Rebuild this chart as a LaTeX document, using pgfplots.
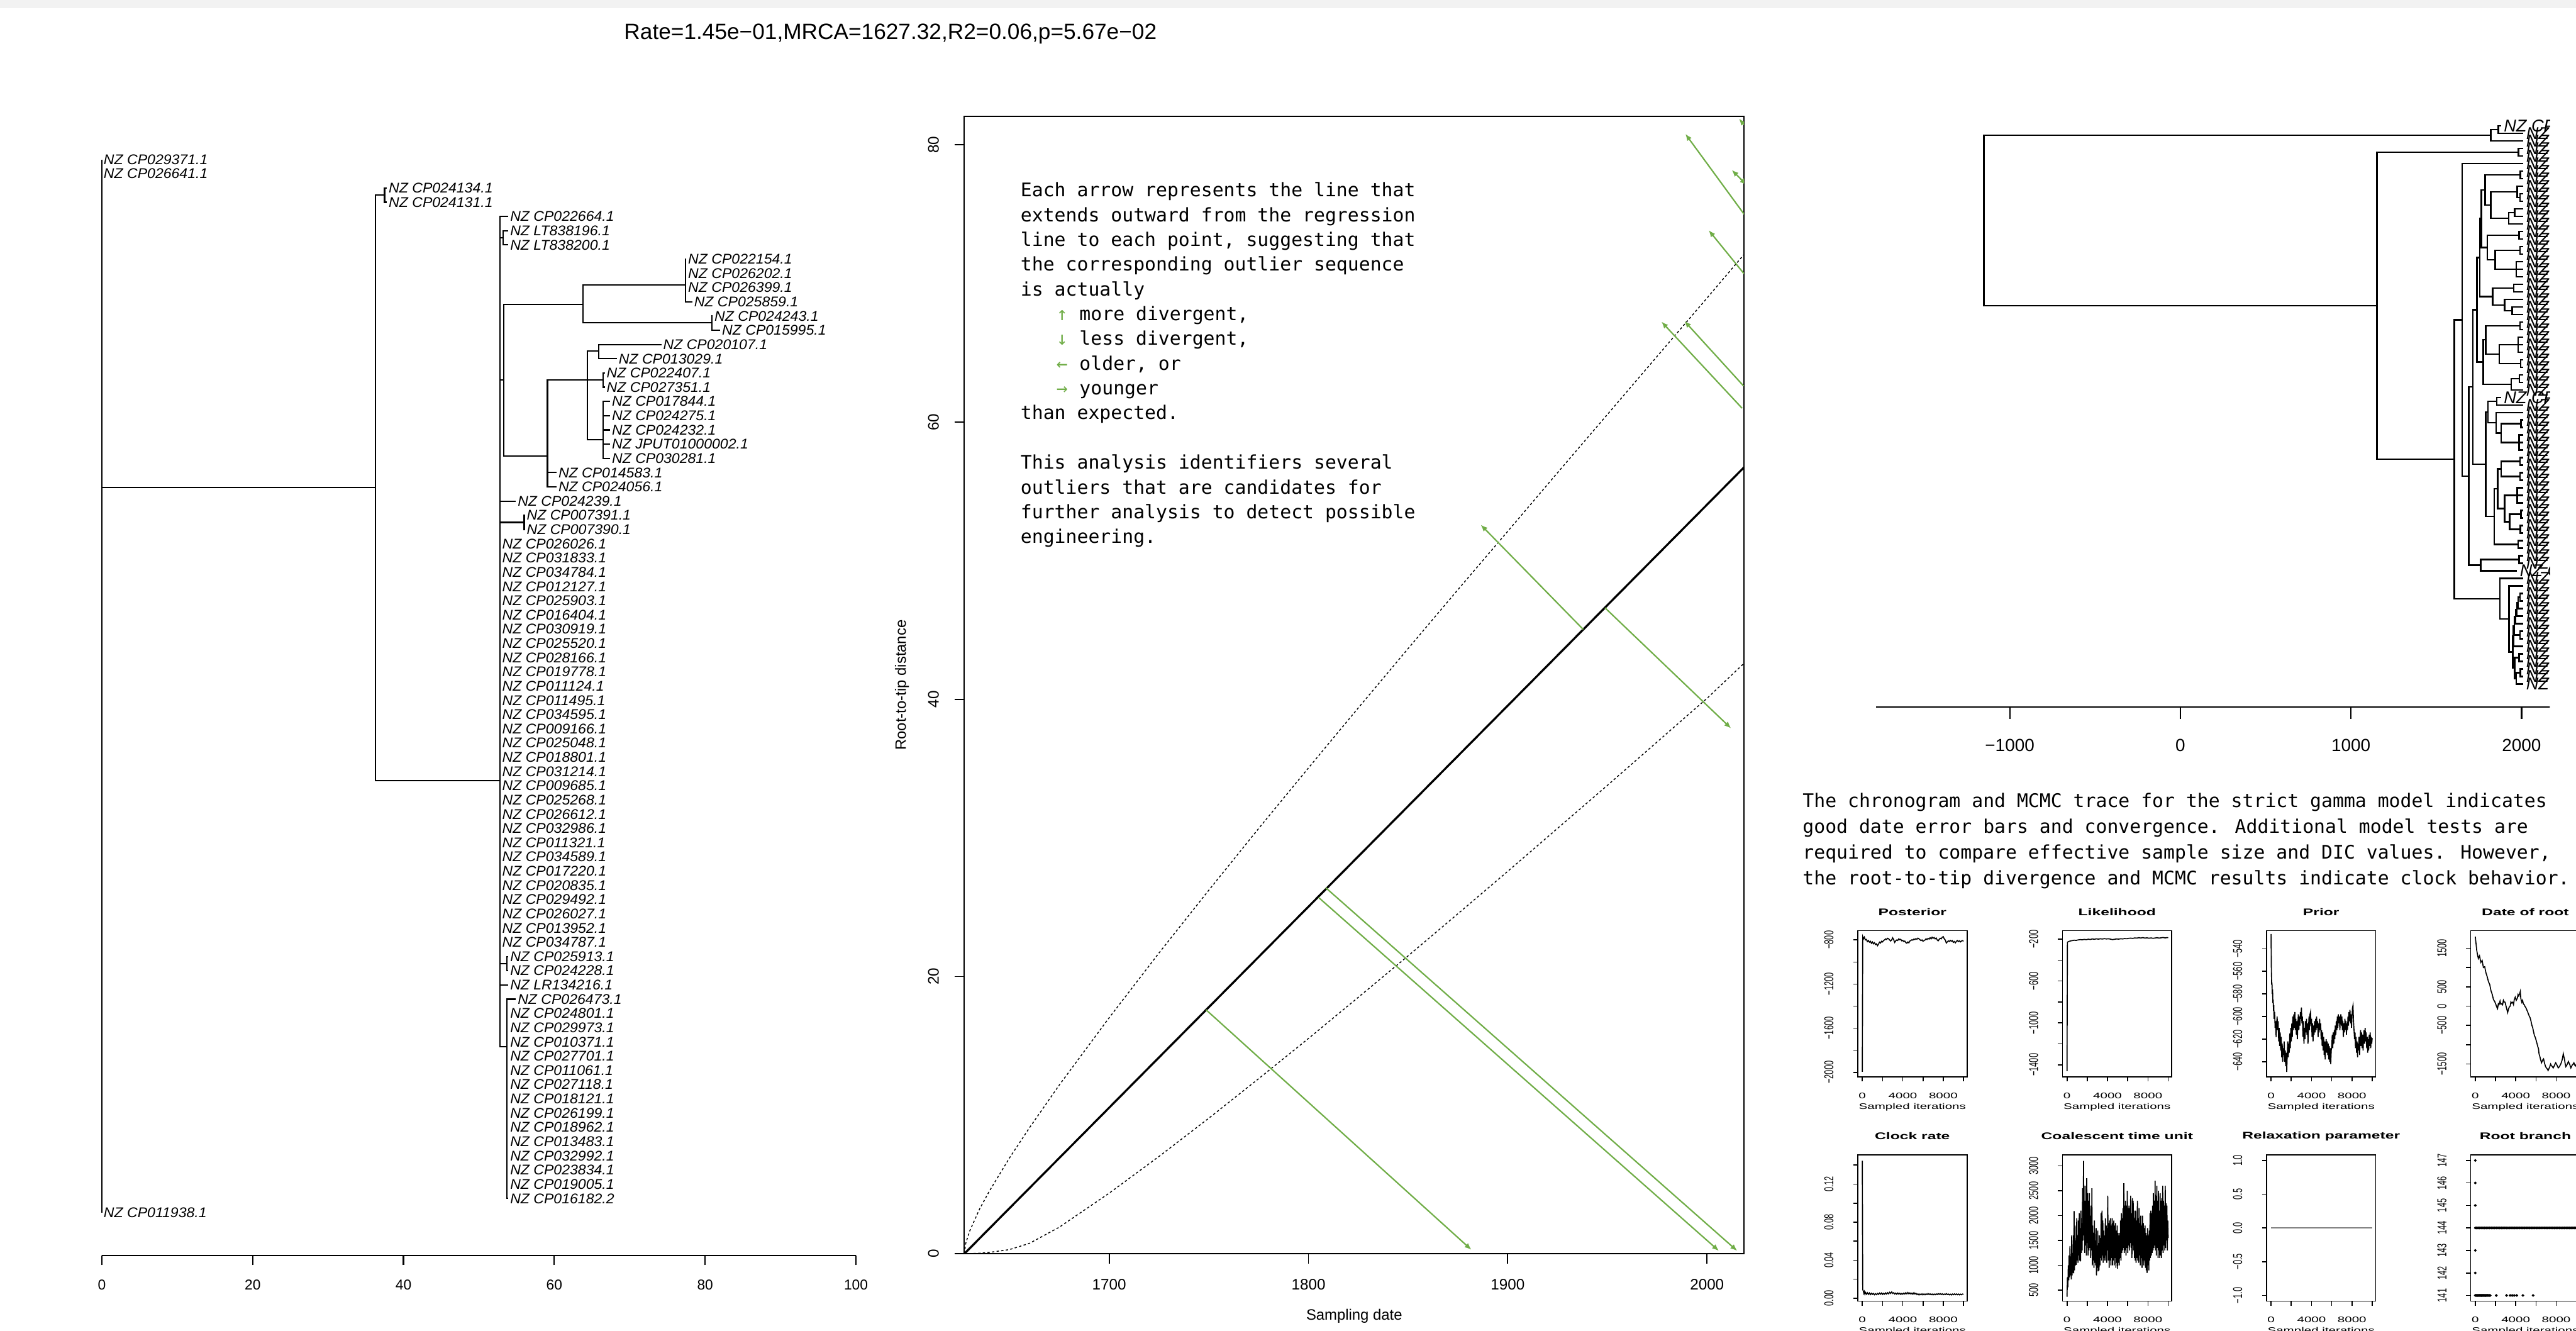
\documentclass[border=0pt]{standalone}
\usepackage{pgfplots}
\pgfplotsset{compat=1.18}
\usepackage{fontspec}
\setmainfont{Liberation Sans}
\newfontfamily\monofont{DejaVu Sans Mono}
\usetikzlibrary{arrows.meta}
\definecolor{grn}{RGB}{112,173,71}
\definecolor{topbar}{RGB}{242,242,242}
\pgfplotsset{mcmc/.style={anchor=south west, scale only axis, width=1.6625cm, height=2.225cm,
  scaled ticks=false, every axis title shift=0pt,
  xmin=-450, xmax=10350, xtick={0,2000,4000,6000,8000,10000}, xticklabels={0,,4000,,8000,},
  tick pos=left, tick align=outside, major tick length=0.07cm,
  axis line style={line width=0.45pt}, every tick/.style={black,line width=0.45pt},
  xticklabel style={font=\fontsize{3.5}{4}\selectfont, xscale=1.6},
  yticklabel style={font=\fontsize{3.5}{4}\selectfont, rotate=90, yscale=1.6, anchor=south},
  xticklabel shift=0.05cm, yticklabel shift=0.1cm,
  xlabel={Sampled iterations},
  xlabel style={at={(axis description cs:0.5,-0.2067)}, anchor=center, font=\fontsize{3.5}{4}\selectfont, xscale=1.6},
  title style={at={(axis description cs:0.5,1.128)}, anchor=center, font=\bfseries\fontsize{4.2}{5}\selectfont, xscale=1.6}}}
\begin{document}
\begin{tikzpicture}
\useasboundingbox (0,0) rectangle (39.2cm,20.25cm);
\clip (0,0) rectangle (39.2cm,20.25cm);
\fill[topbar] (0,20.125cm) rectangle (39.2cm,20.25cm);
\node[anchor=base, font=\fontsize{9.6}{11}\selectfont] at (13.55cm,19.65cm) {Rate=1.45e−01,MRCA=1627.32,R2=0.06,p=5.67e−02};

% ---------------- left phylogram ----------------
\begin{axis}[at={(1.55cm,1.15cm)}, anchor=south west, scale only axis, width=11.475cm, height=16.89cm,
  scaled ticks=false,
  xmin=0, xmax=100, ymin=0, ymax=78, y dir=reverse, hide y axis, axis x line*=bottom,
  xtick={0,20,40,60,80,100}, xticklabels={0,20,40,60,80,100},
  tick align=outside, major tick length=0.15cm,
  x axis line style={line width=0.6pt}, every tick/.style={black,line width=0.6pt},
  xticklabel style={font=\fontsize{6.2}{7}\selectfont}, xticklabel shift=0.1cm,
  clip=false, unbounded coords=jump]
\addplot[black, line width=0.6pt] coordinates {
(0,1) (0,75) (nan,nan)
(0,24.05) (36.3,24.05) (nan,nan)
(37.5,3.48) (36.3,3.48) (36.3,44.65) (52.8,44.65) (nan,nan)
(37.8,3) (37.5,3) (37.5,4) (37.8,4) (nan,nan)
(53.9,5) (52.8,5) (52.8,63.35) (53.7,63.35) (nan,nan)
(52.8,6.5) (53.2,6.5) (nan,nan)
(52.8,16.5) (53.3,16.5) (nan,nan)
(52.8,25) (54.9,25) (nan,nan)
(52.8,26.5) (56.0,26.5) (nan,nan)
(52.8,57.5) (53.7,57.5) (nan,nan)
(52.8,59) (53.9,59) (nan,nan)
(53.9,6) (53.2,6) (53.2,7) (53.9,7) (nan,nan)
(63.8,11.17) (53.3,11.17) (53.3,21.84) (59.1,21.84) (nan,nan)
(77.4,9.83) (63.8,9.83) (63.8,12.45) (80.9,12.45) (nan,nan)
(77.5,8) (77.4,8) (77.4,11) (78.3,11) (nan,nan)
(81.0,12) (80.9,12) (80.9,13) (82.0,13) (nan,nan)
(64.4,16.5) (59.1,16.5) (59.1,24) (60.3,24) (nan,nan)
(59.1,23) (60.3,23) (nan,nan)
(65.9,14.44) (64.4,14.44) (64.4,20.7) (66.5,20.7) (nan,nan)
(64.4,16.5) (66.5,16.5) (nan,nan)
(74.2,14) (65.9,14) (65.9,15) (68.3,15) (nan,nan)
(66.7,16) (66.5,16) (66.5,17) (66.7,17) (nan,nan)
(67.4,18) (66.5,18) (66.5,22) (67.4,22) (nan,nan)
(66.5,19) (67.4,19) (nan,nan)
(66.5,20) (67.4,20) (nan,nan)
(66.5,21) (67.4,21) (nan,nan)
(56.1,26) (56.0,26) (56.0,27) (56.1,27) (nan,nan)
(53.9,57) (53.7,57) (53.7,58) (53.9,58) (nan,nan)
(54.9,60) (53.7,60) (53.7,74) (53.9,74)
};
\addplot[only marks, mark=none, nodes near coords, point meta=explicit symbolic,
  nodes near coords style={anchor=west, inner sep=0.6pt, font=\fontsize{6.1}{7}\selectfont\itshape, xscale=1.03}]
  table[col sep=comma, row sep=\\, x=x, y=y, meta=lab] {
x,y,lab\\
0,1,NZ CP029371.1\\
0,2,NZ CP026641.1\\
37.8,3,NZ CP024134.1\\
37.8,4,NZ CP024131.1\\
53.9,5,NZ CP022664.1\\
53.9,6,NZ LT838196.1\\
53.9,7,NZ LT838200.1\\
77.5,8,NZ CP022154.1\\
77.5,9,NZ CP026202.1\\
77.5,10,NZ CP026399.1\\
78.3,11,NZ CP025859.1\\
81.0,12,NZ CP024243.1\\
82.0,13,NZ CP015995.1\\
74.2,14,NZ CP020107.1\\
68.3,15,NZ CP013029.1\\
66.7,16,NZ CP022407.1\\
66.7,17,NZ CP027351.1\\
67.4,18,NZ CP017844.1\\
67.4,19,NZ CP024275.1\\
67.4,20,NZ CP024232.1\\
67.4,21,NZ JPUT01000002.1\\
67.4,22,NZ CP030281.1\\
60.3,23,NZ CP014583.1\\
60.3,24,NZ CP024056.1\\
54.9,25,NZ CP024239.1\\
56.1,26,NZ CP007391.1\\
56.1,27,NZ CP007390.1\\
52.85,28,NZ CP026026.1\\
52.85,29,NZ CP031833.1\\
52.85,30,NZ CP034784.1\\
52.85,31,NZ CP012127.1\\
52.85,32,NZ CP025903.1\\
52.85,33,NZ CP016404.1\\
52.85,34,NZ CP030919.1\\
52.85,35,NZ CP025520.1\\
52.85,36,NZ CP028166.1\\
52.85,37,NZ CP019778.1\\
52.85,38,NZ CP011124.1\\
52.85,39,NZ CP011495.1\\
52.85,40,NZ CP034595.1\\
52.85,41,NZ CP009166.1\\
52.85,42,NZ CP025048.1\\
52.85,43,NZ CP018801.1\\
52.85,44,NZ CP031214.1\\
52.85,45,NZ CP009685.1\\
52.85,46,NZ CP025268.1\\
52.85,47,NZ CP026612.1\\
52.85,48,NZ CP032986.1\\
52.85,49,NZ CP011321.1\\
52.85,50,NZ CP034589.1\\
52.85,51,NZ CP017220.1\\
52.85,52,NZ CP020835.1\\
52.85,53,NZ CP029492.1\\
52.85,54,NZ CP026027.1\\
52.85,55,NZ CP013952.1\\
52.85,56,NZ CP034787.1\\
53.9,57,NZ CP025913.1\\
53.9,58,NZ CP024228.1\\
53.9,59,NZ LR134216.1\\
54.9,60,NZ CP026473.1\\
53.9,61,NZ CP024801.1\\
53.9,62,NZ CP029973.1\\
53.9,63,NZ CP010371.1\\
53.9,64,NZ CP027701.1\\
53.9,65,NZ CP011061.1\\
53.9,66,NZ CP027118.1\\
53.9,67,NZ CP018121.1\\
53.9,68,NZ CP026199.1\\
53.9,69,NZ CP018962.1\\
53.9,70,NZ CP013483.1\\
53.9,71,NZ CP032992.1\\
53.9,72,NZ CP023834.1\\
53.9,73,NZ CP019005.1\\
53.9,74,NZ CP016182.2\\
0,75,NZ CP011938.1\\
};
\end{axis}

% ---------------- root-to-tip regression ----------------
\begin{axis}[at={(14.675cm,1.175cm)}, anchor=south west, scale only axis, width=11.865cm, height=17.305cm,
  scaled ticks=false,
  xmin=1627.32, xmax=2018.6, ymin=0, ymax=82.06,
  xtick={1700,1800,1900,2000}, xticklabels={1700,1800,1900,2000},
  ytick={0,20,40,60,80}, yticklabels={0,20,40,60,80},
  tick pos=left, tick align=outside, major tick length=0.15cm,
  axis line style={line width=0.5pt}, every tick/.style={black,line width=0.5pt},
  tick label style={font=\fontsize{6.6}{8}\selectfont},
  yticklabel style={rotate=90, anchor=south},
  xticklabel shift=0.115cm, yticklabel shift=0.115cm,
  xlabel={Sampling date}, ylabel={Root-to-tip distance},
  label style={font=\fontsize{6.5}{8}\selectfont},
  xlabel style={at={(axis description cs:0.5,-0.0549)}, anchor=center},
  ylabel style={at={(axis description cs:-0.0801,0.5)}, anchor=center, rotate=0}]
\addplot[black, line width=0.9pt] coordinates {(1627.32,0) (2018.6,56.74)};
\addplot[black, line width=0.4pt, dash pattern=on 1pt off 1pt] coordinates {
(1627.32,0) (1628,0.75) (1630,1.64) (1635,3.24) (1640,4.55) (1650,6.92) (1660,9.09) (1675,12.18) (1700,17.03) (1725,21.70) (1750,26.23) (1775,30.68) (1800,35.05) (1825,39.38) (1850,43.66) (1875,47.91) (1900,52.12) (1925,56.35) (1950,60.55) (1975,64.75) (2000,68.95) (2018.6,72.1)};
\addplot[black, line width=0.4pt, dash pattern=on 1pt off 1pt] coordinates {
(1627.32,0) (1630,0.01) (1635,0.04) (1640,0.1) (1650,0.3) (1660,0.75) (1675,1.92) (1700,4.37) (1725,7.02) (1750,9.78) (1775,12.63) (1800,15.53) (1825,18.50) (1850,21.49) (1875,24.53) (1900,27.59) (1925,30.69) (1950,33.79) (1975,36.93) (2000,40.07) (2018.6,42.6)};
\addplot[grn, line width=0.6pt, -{Latex[length=3pt,width=2.4pt]}] coordinates {(1748.6,17.6) (1881.8,0.28)};
\addplot[grn, line width=0.6pt, -{Latex[length=3pt,width=2.4pt]}] coordinates {(1805.1,25.7) (2006.0,0.2)};
\addplot[grn, line width=0.6pt, -{Latex[length=3pt,width=2.4pt]}] coordinates {(1808.7,26.4) (2015.2,0.2)};
\addplot[grn, line width=0.6pt, -{Latex[length=3pt,width=2.4pt]}] coordinates {(1937.9,45.04) (1886.4,52.6)};
\addplot[grn, line width=0.6pt, -{Latex[length=3pt,width=2.4pt]}] coordinates {(1948.8,46.6) (2012.1,37.9)};
\addplot[grn, line width=0.6pt, -{Latex[length=3pt,width=2.4pt]}] coordinates {(2017.6,61.0) (1977.1,67.25)};
\addplot[grn, line width=0.6pt, -{Latex[length=3pt,width=2.4pt]}] coordinates {(2018.4,62.6) (1988.6,67.3)};
\addplot[grn, line width=0.6pt, -{Latex[length=3pt,width=2.4pt]}] coordinates {(2018.6,70.7) (2000.8,73.85)};
\addplot[grn, line width=0.6pt, -{Latex[length=3pt,width=2.4pt]}] coordinates {(2018.6,75.0) (1989.1,80.8)};
\addplot[grn, line width=0.6pt, {Latex[length=3pt,width=2.4pt]}-{Latex[length=3pt,width=2.4pt]}] coordinates {(2012.4,78.2) (2019.9,77.1)};
\addplot[grn, line width=0.6pt, -{Latex[length=3pt,width=2.4pt]}] coordinates {(2018.6,81.45) (2016.0,81.9)};
\end{axis}

\begin{scope}[font=\monofont\fontsize{8.11}{10.7}\selectfont]
\node[anchor=base west, inner sep=0] at (15.525cm,17.2575cm) {Each arrow represents the line that};
\node[anchor=base west, inner sep=0] at (15.525cm,16.8808cm) {extends outward from the regression};
\node[anchor=base west, inner sep=0] at (15.525cm,16.504cm) {line to each point, suggesting that};
\node[anchor=base west, inner sep=0] at (15.525cm,16.1273cm) {the corresponding outlier sequence};
\node[anchor=base west, inner sep=0] at (15.525cm,15.7505cm) {is actually};
\node[anchor=base, inner sep=0, text=grn] at (16.1625cm,15.3738cm) {↑};
\node[anchor=base west, inner sep=0] at (16.42cm,15.3738cm) {more divergent,};
\node[anchor=base, inner sep=0, text=grn] at (16.1625cm,14.997cm) {↓};
\node[anchor=base west, inner sep=0] at (16.42cm,14.997cm) {less divergent,};
\node[anchor=base, inner sep=0, text=grn] at (16.1625cm,14.6203cm) {←};
\node[anchor=base west, inner sep=0] at (16.42cm,14.6203cm) {older, or};
\node[anchor=base, inner sep=0, text=grn] at (16.1625cm,14.2435cm) {→};
\node[anchor=base west, inner sep=0] at (16.42cm,14.2435cm) {younger};
\node[anchor=base west, inner sep=0] at (15.525cm,13.8668cm) {than expected.};
\node[anchor=base west, inner sep=0] at (15.525cm,13.1133cm) {This analysis identifiers several};
\node[anchor=base west, inner sep=0] at (15.525cm,12.7365cm) {outliers that are candidates for};
\node[anchor=base west, inner sep=0] at (15.525cm,12.3598cm) {further analysis to detect possible};
\node[anchor=base west, inner sep=0] at (15.525cm,11.983cm) {engineering.};
\node[anchor=base west, inner sep=0] at (27.425cm,7.9625cm) {The chronogram and MCMC trace for the strict gamma model indicates};
\node[anchor=base west, inner sep=0] at (27.425cm,7.570cm) {good date error bars and convergence. Additional model tests are};
\node[anchor=base west, inner sep=0] at (27.425cm,7.180cm) {required to compare effective sample size and DIC values. However,};
\node[anchor=base west, inner sep=0] at (27.425cm,6.7875cm) {the root-to-tip divergence and MCMC results indicate clock behavior.};
\end{scope}

% ---------------- chronogram ----------------
\begin{scope}
\clip (28cm,8.3cm) rectangle (38.8cm,19cm);
\begin{axis}[at={(28.55cm,9.495cm)}, anchor=south west, scale only axis, width=10.6cm, height=8.955cm,
  scaled ticks=false,
  xmin=-1783, xmax=2300, ymin=0, ymax=78.04, y dir=reverse, hide y axis, axis x line*=bottom,
  xtick={-1000,0,1000,2000}, xticklabels={−1000,0,1000,2000},
  tick align=outside, major tick length=0.1825cm,
  x axis line style={line width=0.6pt}, every tick/.style={black,line width=0.6pt},
  xticklabel style={font=\fontsize{7.6}{9}\selectfont}, xticklabel shift=0.185cm,
  clip=false, unbounded coords=jump]
\addplot[black, line width=0.65pt] coordinates {
(1819,2.25) (-1152,2.25) (-1152,24.85) (1152,24.85) (nan,nan)
(1864,1.5) (1819,1.5) (1819,3) (2011,3) (nan,nan)
(1880,1) (1864,1) (1864,2) (2011,2) (nan,nan)
(1982,4.5) (1152,4.5) (1152,45.2) (1606,45.2) (nan,nan)
(2011,4) (1982,4) (1982,5) (2011,5) (nan,nan)
(1651,26.72) (1606,26.72) (1606,63.69) (1872,63.69) (nan,nan)
(2011,6) (1651,6) (1651,47.44) (1690,47.44) (nan,nan)
(1715,35.63) (1690,35.63) (1690,59.25) (1760,59.25) (nan,nan)
(1986,58.5) (1760,58.5) (1760,60) (1974,60) (nan,nan)
(2011,58) (1986,58) (1986,59) (2011,59) (nan,nan)
(1739,25.39) (1715,25.39) (1715,45.875) (1790,45.875) (nan,nan)
(1755,18.47) (1739,18.47) (1739,32.31) (1775,32.31) (nan,nan)
(1765,13.31) (1755,13.31) (1755,23.625) (1830,23.625) (nan,nan)
(1786,9.5) (1765,9.5) (1765,17.125) (1800,17.125) (nan,nan)
(1993,7.5) (1786,7.5) (1786,11.5) (1820,11.5) (nan,nan)
(2011,7) (1993,7) (1993,8) (2011,8) (nan,nan)
(1975,9.75) (1820,9.75) (1820,13.25) (1925,13.25) (nan,nan)
(2011,9) (1975,9) (1975,10.5) (1990,10.5) (nan,nan)
(2011,10) (1990,10) (1990,11) (2011,11) (nan,nan)
(1960,12.5) (1925,12.5) (1925,14) (2011,14) (nan,nan)
(2011,12) (1960,12) (1960,13) (2011,13) (nan,nan)
(1985,15.5) (1800,15.5) (1800,18.75) (1845,18.75) (nan,nan)
(2011,15) (1985,15) (1985,16) (2011,16) (nan,nan)
(1990,17.5) (1845,17.5) (1845,20) (1970,20) (nan,nan)
(2011,17) (1990,17) (1990,18) (2011,18) (nan,nan)
(2011,19) (1970,19) (1970,21) (2011,21) (nan,nan)
(1970,20) (2011,20) (nan,nan)
(1955,22.5) (1830,22.5) (1830,24.75) (1900,24.75) (nan,nan)
(2011,22) (1955,22) (1955,23) (2011,23) (nan,nan)
(2011,24) (1900,24) (1900,25.5) (1945,25.5) (nan,nan)
(2011,25) (1945,25) (1945,26) (2011,26) (nan,nan)
(1790,29.375) (1775,29.375) (1775,35.25) (1940,35.25) (nan,nan)
(1992,27.5) (1790,27.5) (1790,31.25) (1870,31.25) (nan,nan)
(2011,27) (1992,27) (1992,28) (2011,28) (nan,nan)
(1980,30) (1870,30) (1870,32.5) (1994,32.5) (nan,nan)
(2011,29) (1980,29) (1980,31) (2011,31) (nan,nan)
(1980,30) (2011,30) (nan,nan)
(2011,32) (1994,32) (1994,33) (2011,33) (nan,nan)
(1988,34.5) (1940,34.5) (1940,36) (2011,36) (nan,nan)
(2011,34) (1988,34) (1988,35) (2011,35) (nan,nan)
(1802,38.94) (1790,38.94) (1790,52.81) (1840,52.81) (nan,nan)
(1855,37.5) (1802,37.5) (1802,40.375) (1851,40.375) (nan,nan)
(1880,37) (1855,37) (1855,38) (2011,38) (nan,nan)
(2011,39) (1851,39) (1851,41.75) (1880,41.75) (nan,nan)
(1996,40.5) (1880,40.5) (1880,43) (1985,43) (nan,nan)
(2011,40) (1996,40) (1996,41) (2011,41) (nan,nan)
(2011,42) (1985,42) (1985,44) (2011,44) (nan,nan)
(1985,43) (2011,43) (nan,nan)
(1860,49.125) (1840,49.125) (1840,56.5) (1980,56.5) (nan,nan)
(1880,46.5) (1860,46.5) (1860,51.75) (1900,51.75) (nan,nan)
(1992,45.5) (1880,45.5) (1880,47.5) (1990,47.5) (nan,nan)
(2011,45) (1992,45) (1992,46) (2011,46) (nan,nan)
(2011,47) (1990,47) (1990,48) (2011,48) (nan,nan)
(1975,50) (1900,50) (1900,53.5) (1930,53.5) (nan,nan)
(2011,49) (1975,49) (1975,51) (2011,51) (nan,nan)
(1975,50) (2011,50) (nan,nan)
(1996,52.5) (1930,52.5) (1930,54.5) (1993,54.5) (nan,nan)
(2011,52) (1996,52) (1996,53) (2011,53) (nan,nan)
(2011,54) (1993,54) (1993,55) (2011,55) (nan,nan)
(2011,56) (1980,56) (1980,57) (2011,57) (nan,nan)
(2011,61) (1872,61) (1872,66.38) (1927,66.38) (nan,nan)
(2011,62) (1927,62) (1927,70.76) (1948,70.76) (nan,nan)
(1952,68.64) (1948,68.64) (1948,72.875) (1960,72.875) (nan,nan)
(1958,67.28) (1952,67.28) (1952,70) (2011,70) (nan,nan)
(1965,66.06) (1958,66.06) (1958,68.5) (1992,68.5) (nan,nan)
(2011,68) (1992,68) (1992,69) (2011,69) (nan,nan)
(1972,65.125) (1965,65.125) (1965,67) (2011,67) (nan,nan)
(1980,64.25) (1972,64.25) (1972,66) (2011,66) (nan,nan)
(1990,63.5) (1980,63.5) (1980,65) (2011,65) (nan,nan)
(2011,63) (1990,63) (1990,64) (2011,64) (nan,nan)
(1985,71.5) (1960,71.5) (1960,74.25) (1970,74.25) (nan,nan)
(2011,71) (1985,71) (1985,72) (2011,72) (nan,nan)
(1993,73.5) (1970,73.5) (1970,75) (2011,75) (nan,nan)
(2011,73) (1993,73) (1993,74) (2011,74)
};
\addplot[only marks, mark=none, nodes near coords, point meta=explicit symbolic,
  nodes near coords style={anchor=west, inner sep=1pt, font=\fontsize{7.4}{8}\selectfont\itshape}]
  table[col sep=comma, row sep=\\, x=x, y=y, meta=lab] {
x,y,lab\\
1880,1,NZ CP029371.1\\ 2011,2,NZ CP026641.1\\ 2011,3,NZ CP024134.1\\ 2011,4,NZ CP024131.1\\
2011,5,NZ CP022664.1\\ 2011,6,NZ LT838196.1\\ 2011,7,NZ LT838200.1\\ 2011,8,NZ CP022154.1\\
2011,9,NZ CP026202.1\\ 2011,10,NZ CP026399.1\\ 2011,11,NZ CP025859.1\\ 2011,12,NZ CP024243.1\\
2011,13,NZ CP015995.1\\ 2011,14,NZ CP020107.1\\ 2011,15,NZ CP013029.1\\ 2011,16,NZ CP022407.1\\
2011,17,NZ CP027351.1\\ 2011,18,NZ CP017844.1\\ 2011,19,NZ CP024275.1\\ 2011,20,NZ CP024232.1\\
2011,21,NZ JPUT01000002.1\\ 2011,22,NZ CP030281.1\\ 2011,23,NZ CP014583.1\\ 2011,24,NZ CP024056.1\\
2011,25,NZ CP024239.1\\ 2011,26,NZ CP007391.1\\ 2011,27,NZ CP007390.1\\ 2011,28,NZ CP026026.1\\
2011,29,NZ CP031833.1\\ 2011,30,NZ CP034784.1\\ 2011,31,NZ CP012127.1\\ 2011,32,NZ CP025903.1\\
2011,33,NZ CP016404.1\\ 2011,34,NZ CP030919.1\\ 2011,35,NZ CP025520.1\\ 2011,36,NZ CP028166.1\\
1880,37,NZ CP019778.1\\ 2011,38,NZ CP011124.1\\ 2011,39,NZ CP011495.1\\ 2011,40,NZ CP034595.1\\
2011,41,NZ CP009166.1\\ 2011,42,NZ CP025048.1\\ 2011,43,NZ CP018801.1\\ 2011,44,NZ CP031214.1\\
2011,45,NZ CP009685.1\\ 2011,46,NZ CP025268.1\\ 2011,47,NZ CP026612.1\\ 2011,48,NZ CP032986.1\\
2011,49,NZ CP011321.1\\ 2011,50,NZ CP034589.1\\ 2011,51,NZ CP017220.1\\ 2011,52,NZ CP020835.1\\
2011,53,NZ CP029492.1\\ 2011,54,NZ CP026027.1\\ 2011,55,NZ CP013952.1\\ 2011,56,NZ CP034787.1\\
2011,57,NZ CP025913.1\\ 2011,58,NZ CP024228.1\\ 2011,59,NZ LR134216.1\\ 1974,60,NZ CP026473.1\\
2011,61,NZ CP024801.1\\ 2011,62,NZ CP029973.1\\ 2011,63,NZ CP010371.1\\ 2011,64,NZ CP027701.1\\
2011,65,NZ CP011061.1\\ 2011,66,NZ CP027118.1\\ 2011,67,NZ CP018121.1\\ 2011,68,NZ CP026199.1\\
2011,69,NZ CP018962.1\\ 2011,70,NZ CP013483.1\\ 2011,71,NZ CP032992.1\\ 2011,72,NZ CP023834.1\\
2011,73,NZ CP019005.1\\ 2011,74,NZ CP016182.2\\ 2011,75,NZ CP011938.1\\
};
\end{axis}
\end{scope}

% ---------------- MCMC traces ----------------
\begin{axis}[mcmc, at={(28.27cm,3.865cm)}, title={Posterior}, ymin=-2042, ymax=-716,
  ytick={-2000,-1800,-1600,-1400,-1200,-1000,-800}, yticklabels={−2000,,−1600,,−1200,,−800}]
\addplot[black, line width=0.45pt] coordinates {(0,-1995) (40,-770) (120,-790) (200,-775) (300,-800) (400,-795) (500,-815) (600,-805) (700,-820) (800,-812) (900,-830) (1000,-818) (1100,-835) (1200,-825) (1300,-842) (1400,-835) (1500,-852) (1600,-838) (1700,-820) (1800,-828) (1900,-812) (2000,-818) (2100,-805) (2200,-800) (2300,-790) (2400,-796) (2500,-785) (2600,-790) (2700,-800) (2800,-810) (2900,-800) (3000,-780) (3100,-798) (3200,-822) (3300,-808) (3400,-800) (3500,-805) (3600,-790) (3700,-798) (3800,-794) (3900,-808) (4000,-804) (4100,-815) (4200,-810) (4300,-824) (4400,-830) (4500,-818) (4600,-826) (4700,-810) (4800,-805) (4900,-798) (5000,-802) (5100,-792) (5200,-796) (5300,-788) (5400,-794) (5500,-784) (5600,-790) (5700,-798) (5800,-806) (5900,-800) (6000,-812) (6100,-806) (6200,-800) (6300,-790) (6400,-796) (6500,-786) (6600,-792) (6700,-780) (6800,-790) (6900,-775) (7000,-785) (7100,-778) (7200,-790) (7300,-782) (7400,-800) (7500,-808) (7600,-795) (7700,-785) (7800,-790) (7900,-775) (8000,-770) (8100,-790) (8200,-800) (8300,-828) (8400,-818) (8500,-808) (8600,-814) (8700,-804) (8800,-812) (8900,-806) (9000,-822) (9100,-814) (9200,-826) (9300,-812) (9400,-805) (9500,-815) (9600,-808) (9700,-818) (9800,-810) (9900,-806) (10000,-812)};
\end{axis}
\begin{axis}[mcmc, at={(31.385cm,3.865cm)}, title={Likelihood}, ymin=-1516, ymax=-119,
  ytick={-1400,-1200,-1000,-800,-600,-400,-200}, yticklabels={−1400,,−1000,,−600,,−200}]
\addplot[black, line width=0.45pt] coordinates {(0,-1460) (40,-230) (100,-225) (300,-218) (500,-214) (700,-210) (900,-212) (1100,-207) (1300,-204) (1500,-206) (1700,-202) (1900,-205) (2100,-200) (2300,-203) (2500,-198) (2700,-201) (2900,-197) (3100,-200) (3300,-196) (3500,-199) (3700,-195) (3900,-198) (4100,-196) (4300,-200) (4500,-204) (4700,-201) (4900,-198) (5100,-200) (5300,-196) (5500,-198) (5700,-194) (5900,-196) (6100,-192) (6300,-190) (6500,-193) (6700,-188) (6900,-190) (7100,-186) (7300,-189) (7500,-185) (7700,-190) (7900,-187) (8100,-191) (8300,-188) (8500,-192) (8700,-189) (8900,-186) (9100,-190) (9300,-187) (9500,-184) (9700,-188) (9900,-185) (10000,-186)};
\end{axis}
\begin{axis}[mcmc, at={(34.49cm,3.865cm)}, title={Prior}, ymin=-653.4, ymax=-524,
  ytick={-640,-620,-600,-580,-560,-540}, yticklabels={−640,−620,−600,−580,−560,−540}]
\addplot[black, line width=0.45pt] coordinates {(0,-527) (30,-560) (60,-572) (90,-570) (120,-580) (150,-576) (180,-588) (210,-585) (240,-595) (270,-590) (300,-602) (350,-596) (400,-610) (450,-604) (500,-618) (550,-606) (600,-600) (650,-612) (700,-604) (750,-622) (800,-610) (850,-626) (900,-614) (950,-630) (1000,-618) (1050,-636) (1100,-624) (1150,-640) (1200,-628) (1250,-634) (1300,-622) (1350,-640) (1400,-630) (1450,-644) (1500,-632) (1550,-649) (1600,-634) (1650,-622) (1700,-636) (1750,-624) (1800,-632) (1850,-615) (1900,-628) (1950,-610) (2000,-622) (2050,-606) (2100,-618) (2150,-600) (2200,-612) (2250,-598) (2300,-610) (2350,-596) (2400,-612) (2450,-602) (2500,-616) (2550,-604) (2600,-620) (2650,-606) (2700,-598) (2750,-612) (2800,-600) (2850,-608) (2900,-596) (2950,-602) (3000,-592) (3050,-606) (3100,-600) (3150,-618) (3200,-604) (3250,-624) (3300,-610) (3350,-620) (3400,-604) (3450,-614) (3500,-602) (3550,-616) (3600,-606) (3650,-624) (3700,-610) (3750,-600) (3800,-612) (3850,-598) (3900,-596) (3950,-608) (4000,-602) (4050,-618) (4100,-606) (4150,-622) (4200,-608) (4250,-616) (4300,-604) (4350,-614) (4400,-602) (4450,-612) (4500,-600) (4550,-610) (4600,-604) (4650,-618) (4700,-606) (4750,-614) (4800,-602) (4850,-612) (4900,-606) (4950,-620) (5000,-612) (5050,-626) (5100,-614) (5150,-630) (5200,-618) (5250,-634) (5300,-622) (5350,-638) (5400,-626) (5450,-620) (5500,-632) (5550,-622) (5600,-634) (5650,-624) (5700,-638) (5750,-626) (5800,-640) (5850,-628) (5900,-642) (5950,-630) (6000,-626) (6050,-616) (6100,-628) (6150,-614) (6200,-624) (6250,-612) (6300,-620) (6350,-608) (6400,-616) (6450,-604) (6500,-612) (6550,-600) (6600,-610) (6650,-598) (6700,-606) (6750,-600) (6800,-612) (6850,-602) (6900,-598) (6950,-608) (7000,-600) (7050,-612) (7100,-604) (7150,-618) (7200,-606) (7250,-614) (7300,-602) (7350,-612) (7400,-604) (7450,-616) (7500,-606) (7550,-612) (7600,-600) (7650,-608) (7700,-596) (7750,-604) (7800,-594) (7850,-606) (7900,-598) (7950,-610) (8000,-600) (8050,-592) (8100,-590) (8150,-604) (8200,-612) (8250,-620) (8300,-614) (8350,-628) (8400,-618) (8450,-632) (8500,-622) (8550,-636) (8600,-624) (8650,-630) (8700,-618) (8750,-634) (8800,-622) (8850,-612) (8900,-626) (8950,-614) (9000,-628) (9050,-616) (9100,-630) (9150,-618) (9200,-612) (9250,-624) (9300,-610) (9350,-622) (9400,-614) (9450,-628) (9500,-618) (9550,-632) (9600,-620) (9650,-630) (9700,-616) (9750,-626) (9800,-614) (9850,-628) (9900,-618) (9950,-624) (10000,-619)};
\end{axis}
\begin{axis}[mcmc, at={(37.5975cm,3.865cm)}, title={Date of root}, ymin=-1833, ymax=1953,
  ytick={-1500,-1000,-500,0,500,1000,1500}, yticklabels={−1500,,−500,0,500,,1500}]
\addplot[black, line width=0.45pt] coordinates {(0,1800) (150,1433) (300,1233) (420,1300) (550,1133) (680,1180) (800,1000) (930,1020) (1050,867) (1180,760) (1300,633) (1430,560) (1550,400) (1680,300) (1800,167) (1920,120) (2050,33) (2120,-20) (2200,-67) (2280,60) (2350,40) (2450,133) (2520,50) (2600,60) (2700,33) (2780,150) (2850,110) (2950,100) (3020,20) (3100,-60) (3200,-167) (3280,-80) (3350,-30) (3450,0) (3520,110) (3600,80) (3700,100) (3780,40) (3850,160) (3950,233) (4050,150) (4150,200) (4230,300) (4300,260) (4400,333) (4450,380) (4500,200) (4600,100) (4680,150) (4750,60) (4850,33) (4920,-10) (5000,-40) (5100,-100) (5180,-150) (5250,-200) (5350,-267) (5420,-300) (5500,-380) (5600,-500) (5680,-560) (5750,-650) (5850,-767) (5920,-800) (6000,-870) (6100,-967) (6180,-1050) (6250,-1100) (6300,-1233) (6380,-1300) (6450,-1380) (6550,-1467) (6650,-1400) (6750,-1367) (6850,-1480) (6950,-1567) (7030,-1600) (7100,-1620) (7200,-1667) (7280,-1620) (7350,-1580) (7450,-1500) (7520,-1540) (7600,-1560) (7700,-1600) (7780,-1560) (7850,-1520) (7950,-1467) (8020,-1500) (8100,-1540) (8200,-1600) (8280,-1580) (8350,-1550) (8450,-1500) (8520,-1450) (8600,-1380) (8700,-1233) (8750,-1300) (8800,-1350) (8880,-1480) (8950,-1567) (9020,-1540) (9100,-1500) (9200,-1433) (9280,-1480) (9350,-1520) (9450,-1600) (9520,-1560) (9600,-1520) (9680,-1500) (9750,-1467) (9820,-1520) (9900,-1550) (10000,-1500)};
\end{axis}
\begin{axis}[mcmc, at={(28.27cm,0.455cm)}, title={Clock rate}, ymin=-0.003, ymax=0.1508,
  ytick={0,0.02,0.04,0.06,0.08,0.10,0.12,0.14}, yticklabels={0.00,,0.04,,0.08,,0.12,}]
\addplot[black, line width=0.45pt] coordinates {(0,0.1445) (40,0.009) (100,0.0075) (150,0.0052) (200,0.0068) (250,0.0045) (300,0.0062) (400,0.0042) (500,0.0058) (600,0.0040) (700,0.0055) (800,0.0038) (900,0.0052) (1000,0.0040) (1100,0.0050) (1200,0.0036) (1300,0.0048) (1400,0.0038) (1500,0.0050) (1600,0.0040) (1700,0.0054) (1800,0.0042) (1900,0.0055) (2000,0.0040) (2100,0.0052) (2200,0.0042) (2300,0.0056) (2400,0.0044) (2500,0.0058) (2600,0.0046) (2700,0.0062) (2800,0.0050) (2900,0.0066) (3000,0.0050) (3100,0.0058) (3200,0.0044) (3300,0.0054) (3400,0.0042) (3500,0.0055) (3600,0.0043) (3700,0.0052) (3800,0.0040) (3900,0.0050) (4000,0.0042) (4100,0.0054) (4200,0.0044) (4300,0.0058) (4400,0.0046) (4500,0.0060) (4600,0.0046) (4700,0.0056) (4800,0.0044) (4900,0.0054) (5000,0.0042) (5100,0.0058) (5200,0.0044) (5300,0.0052) (5400,0.0038) (5500,0.0046) (5600,0.0034) (5700,0.0044) (5800,0.0036) (5900,0.0046) (6000,0.0035) (6100,0.0045) (6200,0.0036) (6300,0.0046) (6400,0.0038) (6500,0.0048) (6600,0.0038) (6700,0.0046) (6800,0.0036) (6900,0.0044) (7000,0.0035) (7100,0.0044) (7200,0.0036) (7300,0.0046) (7400,0.0038) (7500,0.0048) (7600,0.0040) (7700,0.0048) (7800,0.0038) (7900,0.0046) (8000,0.0036) (8100,0.0044) (8200,0.0038) (8300,0.0048) (8400,0.0038) (8500,0.0044) (8600,0.0035) (8700,0.0043) (8800,0.0034) (8900,0.0044) (9000,0.0036) (9100,0.0046) (9200,0.0037) (9300,0.0045) (9400,0.0036) (9500,0.0044) (9600,0.0035) (9700,0.0043) (9800,0.0036) (9900,0.0044) (10000,0.0040)};
\end{axis}
\begin{axis}[mcmc, at={(31.385cm,0.455cm)}, title={Coalescent time unit}, ymin=283, ymax=3222,
  ytick={500,1000,1500,2000,2500,3000}, yticklabels={500,1000,1500,2000,2500,3000}]
\addplot[black, line width=0.45pt] coordinates {(0,370) (40,760) (80,560) (125,1000) (170,700) (210,1200) (250,760) (290,1390) (330,800) (375,1180) (420,720) (460,1600) (500,800) (540,1250) (580,850) (625,1600) (665,840) (702,2090) (740,900) (790,1800) (830,1000) (875,1500) (915,1010) (960,1950) (1000,1100) (1040,1600) (1085,1050) (1125,1900) (1165,1200) (1210,2050) (1250,1100) (1290,1750) (1335,1080) (1375,2100) (1415,1250) (1460,1850) (1500,1300) (1540,2550) (1580,1500) (1635,3100) (1670,1600) (1710,2300) (1750,1250) (1790,2600) (1830,1400) (1875,2300) (1916,1200) (1950,2750) (1990,1450) (2040,2450) (2080,1200) (2120,2300) (2165,1300) (2210,2450) (2250,1350) (2290,2000) (2335,1150) (2380,2200) (2426,1300) (2460,2550) (2500,1000) (2540,1800) (2580,1100) (2625,1650) (2665,950) (2710,1900) (2750,1050) (2790,1500) (2830,1000) (2875,1750) (2915,800) (2960,1400) (3000,950) (3040,1700) (3085,880) (3125,1450) (3165,900) (3210,1600) (3250,1000) (3290,1550) (3335,1150) (3375,2050) (3415,1100) (3460,2100) (3500,1200) (3540,1900) (3580,1050) (3625,1700) (3665,1150) (3710,1600) (3750,1100) (3790,1950) (3830,1200) (3875,1800) (3915,1050) (3960,1750) (4000,1300) (4023,2400) (4080,1100) (4125,1850) (4165,950) (4210,1900) (4250,1100) (4290,1950) (4335,1000) (4375,1800) (4415,1150) (4460,1950) (4500,1000) (4540,1850) (4580,1100) (4625,1900) (4665,1000) (4710,1800) (4750,1150) (4790,1850) (4830,950) (4875,1700) (4915,1050) (4960,1800) (5000,930) (5040,1650) (5085,1050) (5125,1600) (5165,1000) (5210,1650) (5250,1150) (5290,1900) (5335,1100) (5375,2050) (5415,1250) (5460,1950) (5500,1300) (5540,2150) (5580,1350) (5619,2650) (5660,1250) (5710,2200) (5750,1300) (5790,2300) (5830,1200) (5875,2200) (5915,1350) (5960,2500) (6000,1250) (6040,2150) (6085,1400) (6125,2200) (6165,1300) (6210,2150) (6250,1450) (6290,2400) (6335,1350) (6375,2050) (6415,1150) (6460,2350) (6500,1400) (6540,2300) (6580,1300) (6625,2100) (6665,1150) (6710,1950) (6750,1100) (6790,2100) (6830,1050) (6875,1900) (6915,1150) (6960,2300) (7000,1100) (7040,1950) (7085,1050) (7125,2150) (7165,1200) (7210,1850) (7250,1000) (7290,2000) (7335,1150) (7375,1800) (7415,950) (7460,2000) (7500,1100) (7540,1850) (7580,1000) (7625,1750) (7665,1100) (7710,1800) (7750,950) (7790,1650) (7830,900) (7875,1600) (7915,850) (7960,1750) (8000,1000) (8040,1600) (8085,900) (8125,1700) (8165,1100) (8210,2050) (8250,1150) (8290,2100) (8335,1200) (8375,2050) (8415,1250) (8460,2200) (8500,1300) (8540,2450) (8580,1350) (8625,2300) (8665,1400) (8710,2700) (8750,1300) (8790,2400) (8830,1200) (8875,2600) (8915,1350) (8960,2300) (9000,1150) (9040,2500) (9085,1300) (9125,2100) (9165,1150) (9210,2450) (9250,1200) (9290,2300) (9335,1150) (9375,2350) (9415,1300) (9460,2600) (9500,1250) (9540,2300) (9580,1400) (9625,2200) (9665,1300) (9710,2600) (9750,1350) (9790,2250) (9830,1500) (9875,2200) (9915,1300) (9960,1900) (10000,1550)};
\end{axis}
\begin{axis}[mcmc, at={(34.49cm,0.455cm)}, title={Relaxation parameter}, ymin=-1.084, ymax=1.084,
  ytick={-1,-0.5,0,0.5,1}, yticklabels={−1.0,−0.5,0.0,0.5,1.0}]
\addplot[gray, line width=0.45pt] coordinates {(0,0) (10000,0)};
\end{axis}
\begin{axis}[mcmc, at={(37.5975cm,0.455cm)}, title={Root branch}, ymin=140.75, ymax=147.25,
  ytick={141,142,143,144,145,146,147}, yticklabels={141,142,143,144,145,146,147}]
\addplot[only marks, mark=*, mark size=0.35pt, black] coordinates {
(0,147) (0,146) (0,145) (0,143) (0,142)
(0,144) (100,144) (200,144) (300,144) (400,144) (500,144) (600,144) (700,144) (800,144) (900,144)
(1000,144) (1100,144) (1200,144) (1300,144) (1400,144) (1500,144) (1600,144) (1700,144) (1800,144) (1900,144)
(2000,144) (2100,144) (2200,144) (2300,144) (2400,144) (2500,144) (2600,144) (2700,144) (2800,144) (2900,144)
(3000,144) (3100,144) (3200,144) (3300,144) (3400,144) (3500,144) (3600,144) (3700,144) (3800,144) (3900,144)
(4000,144) (4100,144) (4200,144) (4300,144) (4400,144) (4500,144) (4600,144) (4700,144) (4800,144) (4900,144)
(5000,144) (5100,144) (5200,144) (5300,144) (5400,144) (5500,144) (5600,144) (5700,144) (5800,144) (5900,144)
(6000,144) (6100,144) (6200,144) (6300,144) (6400,144) (6500,144) (6600,144) (6700,144) (6800,144) (6900,144)
(7000,144) (7100,144) (7200,144) (7300,144) (7400,144) (7500,144) (7600,144) (7700,144) (7800,144) (7900,144)
(8000,144) (8100,144) (8200,144) (8300,144) (8400,144) (8500,144) (8600,144) (8700,144) (8800,144) (8900,144)
(9000,144) (9100,144) (9200,144) (9300,144) (9400,144) (9500,144) (9600,144) (9700,144) (9800,144) (9900,144) (10000,144)
(0,141) (60,141) (120,141) (180,141) (240,141) (300,141) (360,141) (420,141) (480,141) (540,141) (600,141) (660,141)
(720,141) (780,141) (840,141) (900,141) (960,141) (1020,141) (1080,141) (1140,141) (1200,141) (1260,141) (1320,141) (1400,141) (1470,141)
(2075,141) (3090,141) (3440,141) (3645,141) (3850,141) (4100,141) (4710,141) (5720,141)};
\end{axis}
\end{tikzpicture}
\end{document}
